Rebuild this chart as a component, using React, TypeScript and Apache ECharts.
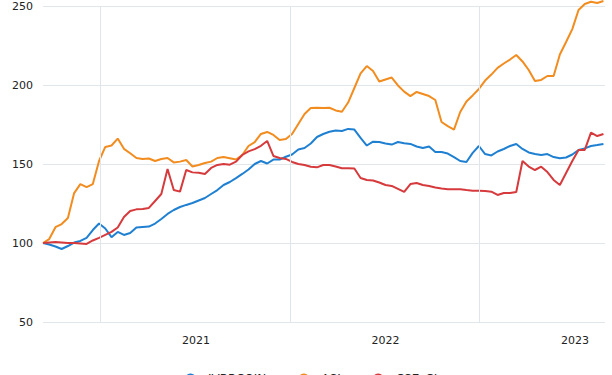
import React, { useEffect, useRef } from "react";
import * as echarts from "echarts";

// Regular sampling grid: first observation and spacing (days)
const START_Y = 2020;
const START_M = 2; // March (0-based)
const START_D = 12;
const STEP_DAYS = 12;

const seriesNames = ["IVBBCOIN", "ASI", "CSE_CI"];
const seriesColors = ["#1f80d2", "#f28c1e", "#d63a3c"];

const blueValues = [
  100, 99, 97.8, 96.2, 98.1, 100.3, 101.3, 103.2, 108.2, 112.3,
  109.2, 103.7, 107, 105.1, 106.3, 109.8, 110.1, 110.4, 112.3, 115.2,
  118.4, 120.9, 122.8, 124.1, 125.3, 126.9, 128.5, 131, 133.5, 136.7,
  138.6, 141.1, 143.7, 146.5, 150, 151.9, 150.3, 152.8, 152.8, 154.6,
  156, 159.2, 160.1, 163, 167.1, 169, 170.4, 171.2, 170.9, 172.2,
  171.8, 166.5, 161.7, 164.1, 163.9, 163, 162.3, 163.9, 163.1, 162.7,
  161.1, 160.1, 161.1, 157.6, 157.6, 156.6, 154.4, 151.9, 151.3, 157,
  161.4, 156.3, 155.4, 157.9, 159.5, 161.4, 162.7, 159.5, 157.3, 156.3,
  155.7, 156.3, 154.4, 153.6, 154.1, 156, 158.9, 159.9, 161.4, 162,
  162.7,
];

const orangeValues = [
  100, 102.5, 110, 112, 115.8, 131.6, 137.3, 135.4, 137.3, 151.9,
  160.8, 161.7, 166.1, 159.6, 156.8, 153.8, 153.2, 153.5, 151.9, 153.2,
  153.8, 151, 151.5, 152.5, 148.4, 149.4, 150.6, 151.5, 153.8, 154.4,
  153.6, 152.8, 155.7, 161.4, 163.9, 169, 170.3, 168.4, 165.2, 165.8,
  169, 175.3, 181.6, 185.4, 185.6, 185.4, 185.6, 183.9, 183.1, 188.9,
  198.1, 207.3, 212, 208.9, 202.2, 203.5, 204.7, 199.7, 195.8, 193,
  195.6, 194.3, 193, 190.5, 176.6, 174, 171.8, 182.9, 189.6, 193.4,
  197.5, 202.8, 206.6, 210.8, 213.6, 216.1, 219, 214.9, 209.5, 202.5,
  203.2, 205.7, 205.7, 219.3, 227.2, 235.4, 247.5, 251.3, 252.7, 251.9,
  253.2,
];

const redValues = [
  100, 100.3, 100.6, 100.3, 100, 100, 99.7, 99.4, 101.6, 103.2,
  105.1, 107, 109.8, 116.5, 120.3, 121.3, 121.5, 122.2, 126.6, 131,
  146.8, 133.5, 132.5, 146.2, 144.7, 144.5, 143.7, 147.5, 149.4, 150,
  149.6, 151.5, 155.7, 158, 159.4, 161.5, 164.6, 155.1, 153.8, 153.2,
  151.3, 150, 149.4, 148.3, 147.9, 149.4, 149.4, 148.4, 147.3, 147.3,
  147.2, 141.1, 139.9, 139.6, 138.3, 136.7, 136.1, 134.2, 132.3, 137.3,
  138, 136.7, 136.1, 135.1, 134.5, 134, 134, 134, 133.5, 133.1,
  133.1, 132.9, 132.5, 130.4, 131.6, 131.6, 132.3, 151.9, 148.4, 146.2,
  148.3, 144.9, 139.9, 136.7, 144.3, 151.9, 158.9, 158.9, 169.9, 167.7,
  169,
];

const yTicks = [50, 100, 150, 200, 250];
const midYearLines = [2020, 2021, 2022];

const FONT = "DejaVu Sans";

function dateAt(i: number): number {
  return new Date(START_Y, START_M, START_D + i * STEP_DAYS).getTime();
}

export default function App() {
  const ref = useRef<HTMLDivElement>(null);

  useEffect(() => {
    if (!ref.current) return;
    const chart = echarts.init(ref.current, undefined, { renderer: "svg" });
    const allValues = [blueValues, orangeValues, redValues];
    const xMin = dateAt(0);
    const xMax = new Date(2023, 1, 28).getTime();

    chart.setOption({
      animation: false,
      backgroundColor: "#ffffff",
      textStyle: { fontFamily: FONT },
      grid: { left: 43, right: 7, top: 6, bottom: 53, containLabel: false },
      legend: {
        top: 368,
        left: 172,
        itemWidth: 25,
        itemHeight: 14,
        itemGap: 24,
        data: seriesNames,
        textStyle: { fontFamily: FONT, fontSize: 12, color: "#222" },
      },
      xAxis: {
        type: "time",
        min: xMin,
        max: xMax,
        axisLine: { show: false },
        axisTick: { show: false },
        splitLine: { show: false },
        axisLabel: {
          formatter: (v: number) => {
            const d = new Date(v);
            return d.getMonth() === 0 && d.getDate() === 1
              ? String(d.getFullYear())
              : "";
          },
          hideOverlap: false,
          fontFamily: FONT,
          fontSize: 11,
          color: "#222",
          margin: 13,
        },
      },
      yAxis: {
        type: "value",
        min: yTicks[0],
        max: yTicks[yTicks.length - 1],
        interval: 50,
        axisLine: { show: false },
        axisTick: { show: false },
        splitLine: { lineStyle: { color: "#e1e6ea", width: 1 } },
        axisLabel: {
          fontFamily: FONT,
          fontSize: 11,
          color: "#222",
          margin: 10,
        },
      },
      series: seriesNames.map((name, k) => ({
        name,
        type: "line",
        showSymbol: false,
        symbol: "none",
        clip: false,
        color: seriesColors[k],
        lineStyle: { width: 2, color: seriesColors[k] },
        data: allValues[k].map((v, i) => [dateAt(i), v]),
        markLine:
          k === 0
            ? {
                silent: true,
                symbol: ["none", "none"],
                label: { show: false },
                lineStyle: { color: "#dfe6eb", width: 1, type: "solid" },
                data: midYearLines.map((y) => ({
                  xAxis: new Date(y, 6, 1).getTime(),
                })),
              }
            : undefined,
      })),
    });

    return () => chart.dispose();
  }, []);

  return (
    <div
      ref={ref}
      style={{ position: "fixed", left: 0, top: 0, width: 612, height: 375 }}
    />
  );
}
